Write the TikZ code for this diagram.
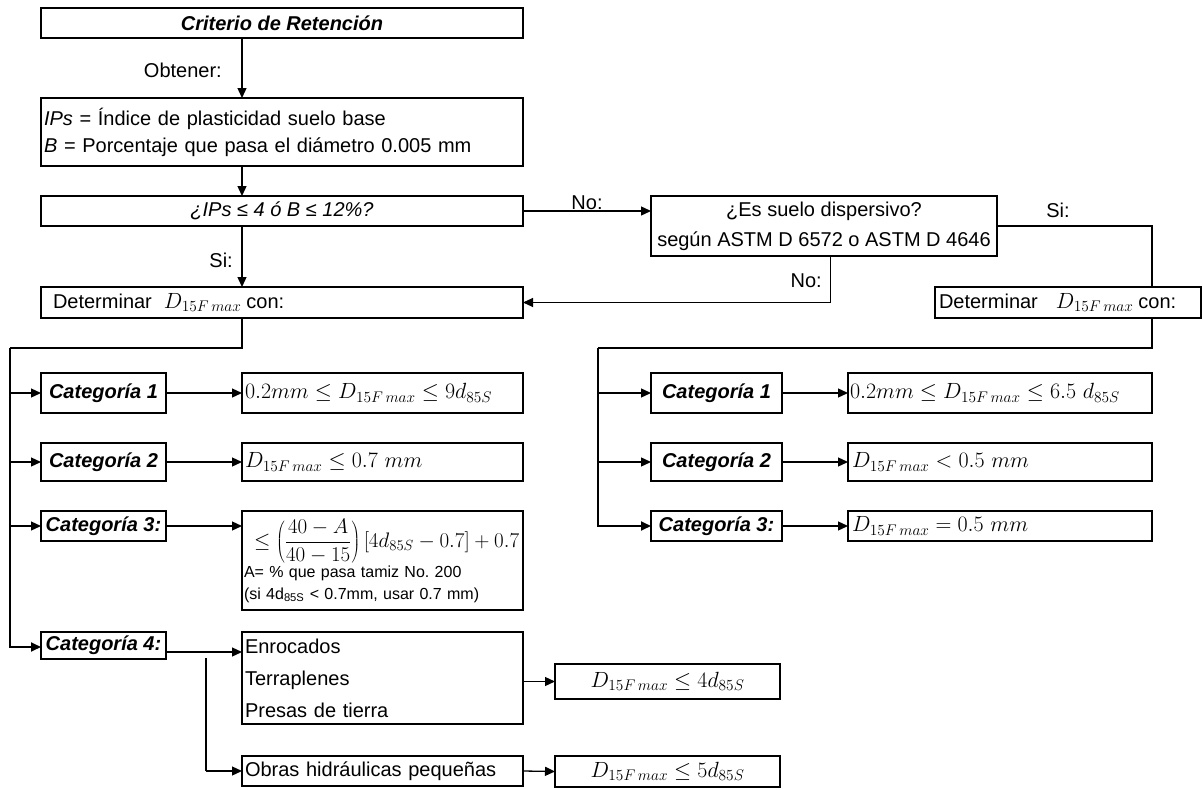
\RequirePackage{fix-cm}
\documentclass[tikz,border=0pt]{standalone}
\usepackage{fontspec}
\setmainfont{Liberation Sans}
\usetikzlibrary{arrows.meta}
% formulas are set a little larger than the running text
\newcommand{\mth}[1]{{\fontsize{22}{26}\selectfont$#1$}}
\frenchspacing
\begin{document}
\begin{tikzpicture}[x=1pt,y=-1pt,
  font=\fontsize{20}{24}\selectfont,
  box/.style={draw, line width=1.9pt, anchor=north west, inner sep=0pt, outer sep=0pt},
  cat/.style={box, font=\fontsize{20}{24}\selectfont\bfseries\itshape},
  arr/.style={-{Triangle[length=10pt,width=9pt]}, line width=1.3pt},
  heavy/.style={line width=2.2pt},
  lbl/.style={inner sep=0pt},
]
\fill[white] (0,0) rectangle (1203,790);
\useasboundingbox (0,0) rectangle (1203,790);

% main column
\node[box, minimum width=482pt, minimum height=30pt, font=\fontsize{20}{24}\selectfont\bfseries\itshape] (n1) at (41,8) {Criterio de Retención};
\node[box, minimum width=482pt, minimum height=68pt, text width=476pt, inner xsep=3pt, align=left, font=\fontsize{20}{27}\selectfont] (n2) at (41,98)
  {\textit{IPs} = Índice de plasticidad suelo base\\\textit{B} = Porcentaje que pasa el diámetro 0.005 mm};
\node[box, minimum width=482pt, minimum height=30pt, font=\fontsize{20}{24}\selectfont\itshape] (n3) at (41,196) {¿IPs ≤ 4 ó B ≤ 12\%?};
\node[box, minimum width=482pt, minimum height=31pt, text width=458pt, inner xsep=12pt, align=left] (det1) at (41,287)
  {Determinar\hspace{12pt}\mth{D_{15F\,max}}\hspace{5pt}con:};

% dispersive branch
\node[box, minimum width=346pt, minimum height=60pt, align=center, font=\fontsize{20}{30}\selectfont] (dis) at (651,196)
  {¿Es suelo dispersivo?\\según ASTM D 6572 o ASTM D 4646};
\node[box, minimum width=266pt, minimum height=31pt, text width=258pt, inner xsep=4pt, align=left] (det2) at (935,287)
  {Determinar\hspace{18pt}\mth{D_{15F\,max}}\hspace{5pt}con:};

% left categories
\node[cat, minimum width=125pt, minimum height=40pt] (c1) at (41,373) {Categoría 1};
\node[cat, minimum width=125pt, minimum height=38pt] (c2) at (41,443) {Categoría 2};
\node[cat, minimum width=125pt, minimum height=30pt] (c3) at (41,511) {Categoría 3:};
\node[cat, minimum width=125pt, minimum height=27pt] (c4) at (41,632) {Categoría 4:};

\node[box, minimum width=281pt, minimum height=40pt, text width=275pt, inner xsep=3pt, align=left] (f1) at (242,373)
  {\mth{0.2mm \le D_{15F\,max} \le 9d_{85S}}};
\node[box, minimum width=281pt, minimum height=38pt, text width=275pt, inner xsep=3pt, align=left] (f2) at (242,443)
  {\mth{D_{15F\,max} \le 0.7\ mm}};
\node[box, minimum width=281pt, minimum height=99pt, text width=277pt, inner xsep=2pt, align=left, font=\fontsize{16}{22}\selectfont] (f3) at (242,511)
  {\hspace*{10pt}{\fontsize{21}{26}\selectfont$\le\left(\displaystyle\frac{40-A}{40-15}\right)[4d_{85S}-0.7]+0.7$}\\[1pt]
   A= \% que pasa tamiz No. 200\\(si 4d\textsubscript{85S} < 0.7mm, usar 0.7 mm)};

\node[box, minimum width=281pt, minimum height=92pt, text width=275pt, inner xsep=3pt, align=left, font=\fontsize{20}{32}\selectfont] (e1) at (242,632)
  {Enrocados\\Terraplenes\\Presas de tierra};
\node[box, minimum width=281pt, minimum height=30pt, text width=275pt, inner xsep=3pt, align=left] (o1) at (242,756)
  {Obras hidráulicas pequeñas};
\node[box, minimum width=225pt, minimum height=35pt] (g1) at (555,664) {\mth{D_{15F\,max} \le 4d_{85S}}};
\node[box, minimum width=225pt, minimum height=31pt] (g2) at (555,756) {\mth{D_{15F\,max} \le 5d_{85S}}};

% right categories
\node[cat, minimum width=131pt, minimum height=40pt] (r1) at (651,373) {Categoría 1};
\node[cat, minimum width=131pt, minimum height=38pt] (r2) at (651,443) {Categoría 2};
\node[cat, minimum width=131pt, minimum height=30pt] (r3) at (651,511) {Categoría 3:};

\node[box, minimum width=304pt, minimum height=40pt, text width=300pt, inner xsep=2pt, align=left] (rf1) at (848,373)
  {\mth{0.2mm \le D_{15F\,max} \le 6.5\ d_{85S}}};
\node[box, minimum width=304pt, minimum height=38pt, text width=296pt, inner xsep=4pt, align=left] (rf2) at (848,443)
  {\mth{D_{15F\,max} < 0.5\ mm}};
\node[box, minimum width=304pt, minimum height=30pt, text width=296pt, inner xsep=4pt, align=left] (rf3) at (848,511)
  {\mth{D_{15F\,max} = 0.5\ mm}};

% connectors of the main column
\coordinate (ax) at (242,0);
\draw[arr] (n1.south -| ax) -- (n2.north -| ax);
\node[lbl, anchor=east] (ob) at (222,70) {Obtener:};
\draw[arr] (n2.south -| ax) -- (n3.north -| ax);
\draw[arr] (n3.south -| ax) -- (det1.north -| ax);
\node[lbl, anchor=east] (si1) at (233,260) {Si:};
\draw[arr] (n3.east) -- (n3.east -| dis.west);
\node[lbl] (no1) at (587,203) {No:};

% dispersive answers
\coordinate (rx) at (1152,0);
\draw[heavy] (dis.east) -- (dis.east -| rx) -- (det2.north -| rx);
\node[lbl] (si2) at (1058,210) {Si:};
\coordinate (nx) at (830,0);
\draw[arr, line width=1pt] (dis.south -| nx) -- (det1.east -| nx) -- (det1.east);
\node[lbl, anchor=east] (no2) at (822,281) {No:};

% left bracket
\coordinate (lx) at (10,348);
\coordinate (c4in) at (10,647);
\draw[heavy] (det1.south -| ax) -- (ax |- lx) -- (lx);
\draw[arr, line width=1.8pt] (lx) -- (c4in) -- (c4in -| c4.west);
\draw[arr] (lx |- c1.west) -- (c1.west);
\draw[arr] (lx |- c2.west) -- (c2.west);
\draw[arr] (lx |- c3.west) -- (c3.west);
\draw[arr] (c1.east) -- (f1.west);
\draw[arr] (c2.east) -- (f2.west);
\draw[arr] (c3.east) -- (c3.east -| f3.west);

% category 4
\coordinate (c4y) at (0,652);
\draw[arr] (c4.east |- c4y) -- (e1.west |- c4y);
\coordinate (bx) at (206,658);
\draw[heavy] (bx) -- (bx |- o1.west);
\draw[arr] (bx |- o1.west) -- (o1.west);
\draw[arr] (e1.east |- g1.west) -- (g1.west);
\draw[arr] (o1.east) -- (g2.west);

% right bracket
\coordinate (ry) at (598,348);
\draw[heavy] (det2.south -| rx) -- (rx |- ry) -- (ry);
\draw[arr, line width=1.8pt] (ry) -- (ry |- r3.west) -- (r3.west);
\draw[arr] (ry |- r1.west) -- (r1.west);
\draw[arr] (ry |- r2.west) -- (r2.west);
\draw[arr] (r1.east) -- (rf1.west);
\draw[arr] (r2.east) -- (rf2.west);
\draw[arr] (r3.east) -- (rf3.west);
\end{tikzpicture}
\end{document}
